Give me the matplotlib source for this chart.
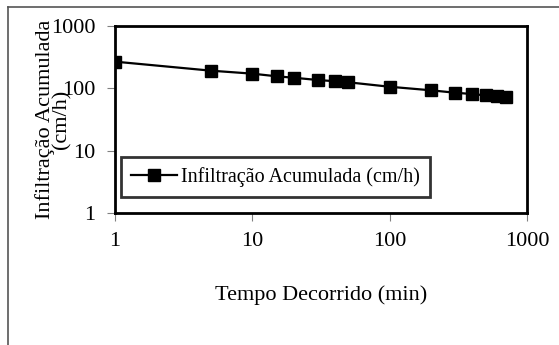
import numpy as np
import matplotlib
matplotlib.use('Agg')
import matplotlib.pyplot as plt
from matplotlib.lines import Line2D

plt.rcParams['font.family'] = ['Liberation Serif', 'DejaVu Serif']

# dados
tempo = np.array([1, 5, 10, 15, 20, 30, 40, 50, 100, 200, 300, 400, 500, 600, 700])
infiltracao = np.array([268, 192, 172, 156, 148, 136, 130, 125, 106, 93, 85, 81, 77, 74, 72])
ticks = [1, 10, 100, 1000]
tick_labels = ['1', '10', '100', '1000']

W, H = 559, 345
fig = plt.figure(figsize=(W / 100, H / 100), dpi=100)
ax = fig.add_axes([115 / W, 1 - 213 / H, (527 - 115) / W, (213 - 26) / H])

ax.plot(tempo, infiltracao, color='black', lw=1.6, marker='s', ms=8.5,
        label='Infiltração Acumulada (cm/h)')
ax.set_xscale('log')
ax.set_yscale('log')
ax.set_xlim(1, 1000)
ax.set_ylim(1, 1000)
ax.set_xticks(ticks)
ax.set_xticklabels(tick_labels)
ax.set_yticks(ticks)
ax.set_yticklabels(tick_labels)
ax.minorticks_off()
ax.tick_params(labelsize=16, length=6, width=0.8, color='#808080', pad=8)
for s in ax.spines.values():
    s.set_linewidth(2)

ax.set_xlabel('Tempo Decorrido (min)', fontsize=16, labelpad=24)
ax.set_ylabel('Infiltração Acumulada\n(cm/h)', fontsize=16, linespacing=0.85)
ax.yaxis.set_label_coords(-0.105, 0.5)

leg = ax.legend(loc='lower left', bbox_to_anchor=(6 / 412, 16 / 187), fontsize=14.5,
                frameon=True, fancybox=False, edgecolor='black', borderpad=0.5,
                handlelength=2.3, handletextpad=0.2, borderaxespad=0)
leg.get_frame().set_linewidth(2)

# moldura externa cortada
fig.add_artist(Line2D([8 / W, 1], [1 - 7 / H, 1 - 7 / H], color='#555555', lw=1.2))
fig.add_artist(Line2D([8 / W, 8 / W], [0, 1 - 7 / H], color='#555555', lw=1.2))
# restos do título cortado
fig.text(35 / W, 1 + 6 / H, 'g', fontsize=16, ha='center', va='baseline')
fig.text(200 / W, 1 + 6 / H, 'g', fontsize=16, ha='center', va='baseline')

fig.savefig('out.png', dpi=100)
